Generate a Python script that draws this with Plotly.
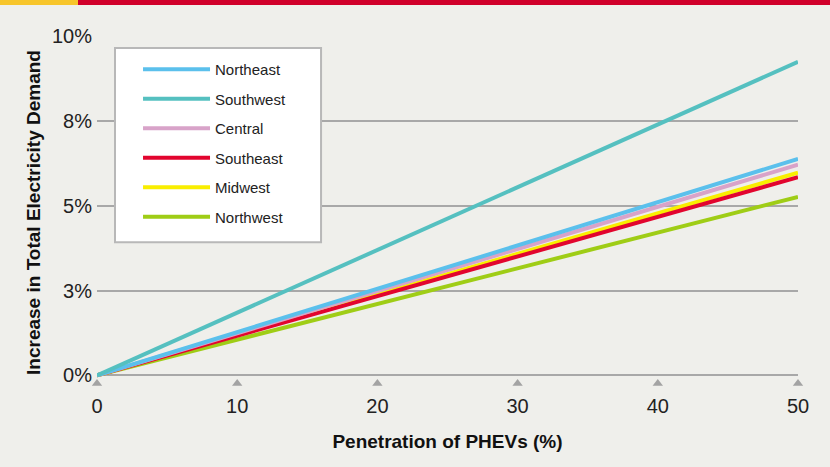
import plotly.graph_objects as go

regions = ["Northeast", "Southwest", "Central", "Southeast", "Midwest", "Northwest"]
colors = ["#5bc0ec", "#55c0c0", "#d8a3c9", "#e2052e", "#f9ee00", "#9fcd16"]
penetration = [0, 50]
demand_at_50 = [6.38, 9.24, 6.21, 5.84, 5.97, 5.26]
draw_order = ["Northwest", "Midwest", "Southeast", "Central", "Northeast", "Southwest"]

x_ticks = [0, 10, 20, 30, 40, 50]
y_ticks = [0, 2.5, 5, 7.5, 10]
y_tick_labels = ["0%", "3%", "5%", "8%", "10%"]

FONT = "Liberation Sans Narrow, Arial Narrow, Liberation Sans, Arial, sans-serif"
BG = "#efefeb"

fig = go.Figure()
for name in draw_order:
    i = regions.index(name)
    fig.add_trace(go.Scatter(
        x=penetration, y=[0, demand_at_50[i]], mode="lines", name=name,
        line=dict(color=colors[i], width=4), legendgroup=name,
        legendrank=i + 1, cliponaxis=False, hoverinfo="x+y+name",
    ))

# tick triangles under the x-axis
fig.add_trace(go.Scatter(
    x=x_ticks, y=[-0.24] * len(x_ticks), mode="markers", showlegend=False,
    marker=dict(symbol="triangle-up", size=9, color="#a3a3a3"),
    cliponaxis=False, hoverinfo="skip",
))

fig.update_layout(
    width=830, height=467,
    margin=dict(l=97, r=32, t=36, b=78),
    paper_bgcolor=BG, plot_bgcolor=BG,
    font=dict(family=FONT, color="#222222"),
    legend=dict(
        x=0.0357, y=0.9518, xanchor="left", yanchor="top",
        bgcolor="rgba(0,0,0,0)", borderwidth=0,
        font=dict(size=15, family=FONT, color="#222222"),
        itemwidth=67, tracegroupgap=7, traceorder="grouped",
        indentation=16,
    ),
    xaxis=dict(
        range=[0, 50], tickvals=x_ticks, showgrid=False, zeroline=False,
        showline=False, ticks="", ticklabelstandoff=3,
        tickfont=dict(size=20, family=FONT, color="#222222"),
        title=dict(text="<b>Penetration of PHEVs (%)</b>", standoff=18,
                   font=dict(size=19, family=FONT, color="#111111")),
        fixedrange=True,
    ),
    yaxis=dict(
        range=[-0.4, 10], tickvals=y_ticks, ticktext=y_tick_labels,
        showgrid=True, gridcolor="#a8a8a8", gridwidth=2, zeroline=False,
        showline=False, ticks="", ticklabelstandoff=4,
        tickfont=dict(size=20, family=FONT, color="#222222"),
        title=dict(text="<b>Increase in Total Electricity Demand</b>", standoff=6,
                   font=dict(size=19, family=FONT, color="#111111")),
        fixedrange=True,
    ),
    shapes=[
        # legend frame
        dict(type="rect", xref="x", yref="y", x0=1.284, x1=15.98,
             y0=3.923, y1=9.646, fillcolor="white",
             line=dict(color="#b8b8b8", width=2), layer="between"),
        # header stripe
        dict(type="rect", xref="paper", yref="paper", x0=-0.14, x1=-0.0271,
             y0=1.0879, y1=1.11, fillcolor="#f7c52a", line_width=0, layer="above"),
        dict(type="rect", xref="paper", yref="paper", x0=-0.0271, x1=1.05,
             y0=1.0879, y1=1.11, fillcolor="#d0002a", line_width=0, layer="above"),
    ],
)

fig.write_html("out.html", config={"displayModeBar": False},
               post_script="document.body.style.margin='0';")
